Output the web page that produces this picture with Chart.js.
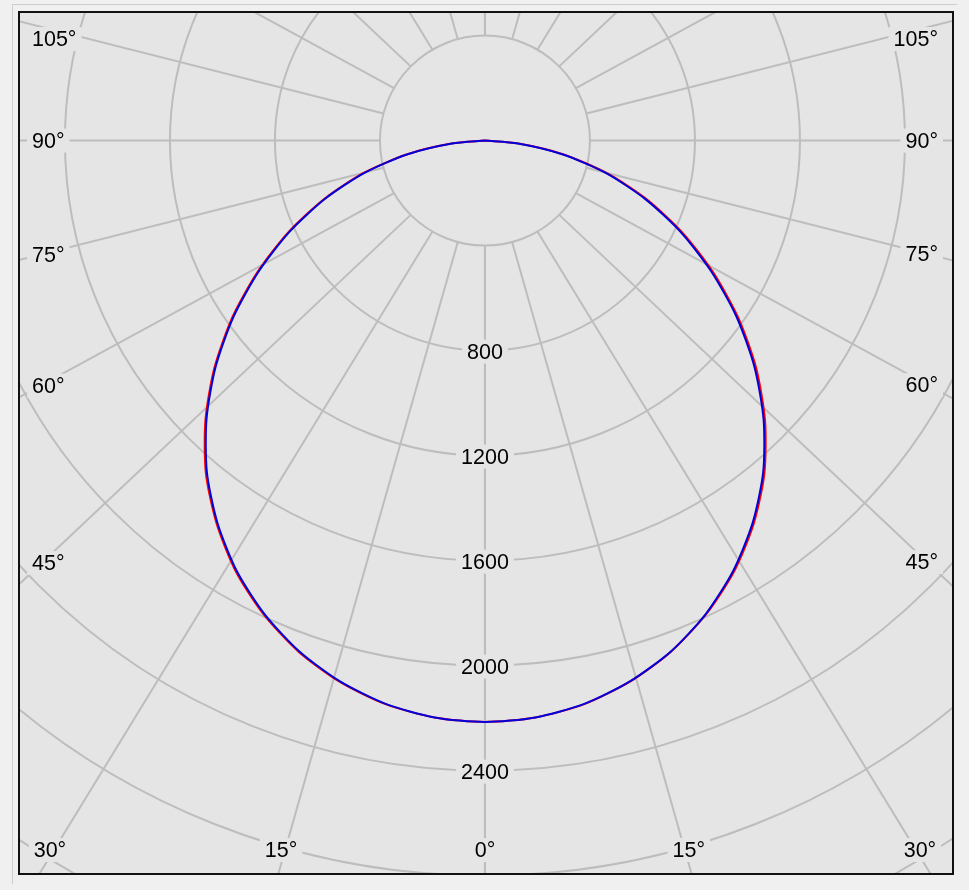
<!DOCTYPE html>
<html>
<head>
<meta charset="utf-8">
<script src="https://cdn.jsdelivr.net/npm/chart.js@4.4.1/dist/chart.umd.min.js"></script>
<style>
html, body { margin: 0; padding: 0; background: #f0f0f0; }
</style>
</head>
<body>
<canvas id="myChart" width="969" height="890"></canvas>
<script>
// gamma angles (0 = straight down), 5 deg steps
const angles = [0, 5, 10, 15, 20, 25, 30, 35, 40, 45, 50, 55, 60, 65, 70, 75, 80, 85, 90];

// luminous intensity in cd
const c0   = [2215, 2206, 2180, 2134, 2072, 1992, 1897, 1784, 1656, 1509, 1349, 1179, 1004, 831, 657, 483, 304, 128, 0];
const c180 = [2215, 2206, 2180, 2135, 2073, 1993, 1897, 1782, 1654, 1506, 1345, 1175, 1000, 827, 653, 480, 303, 128, 0];
const c90  = [2215, 2206, 2179, 2133, 2071, 1990, 1892, 1778, 1649, 1501, 1340, 1170, 995, 822, 649, 476, 299, 126, 0];
const c270 = [2215, 2206, 2179, 2133, 2070, 1989, 1892, 1777, 1648, 1500, 1339, 1169, 994, 821, 648, 475, 299, 126, 0];

const rings = [400, 800, 1200, 1600, 2000, 2400, 2800, 3200, 3600, 4000];
const ringLabels = [800, 1200, 1600, 2000, 2400];
const gridAngles = [0, 15, 30, 45, 60, 75, 90, 105, 120, 135, 150, 165, 180];
const sideLabels = [45, 60, 75, 90, 105];
const bottomLabels = [0, 15, 30];

const GRID = '#bdbdbd';
const BG = '#e5e5e5';
const FONT = '21.5px "Liberation Sans", Arial, sans-serif';
const stretch = 1.06; // grid rays of the original lean slightly outward

function planePoints(leftVals, rightVals) {
  const pts = [];
  for (let i = angles.length - 1; i >= 0; i--) {
    const t = angles[i] * Math.PI / 180;
    pts.push({x: -leftVals[i] * Math.sin(t), y: -leftVals[i] * Math.cos(t)});
  }
  for (let i = 1; i < angles.length; i++) {
    const t = angles[i] * Math.PI / 180;
    pts.push({x: rightVals[i] * Math.sin(t), y: -rightVals[i] * Math.cos(t)});
  }
  return pts;
}

function ray(cx, cy, r0, deg, side) {
  const t = deg * Math.PI / 180;
  const sx = cx + side * r0 * Math.sin(t);
  const sy = cy + r0 * Math.cos(t);
  let dx = side * stretch * Math.sin(t), dy = Math.cos(t);
  const n = Math.hypot(dx, dy);
  return {sx, sy, dx: dx / n, dy: dy / n};
}

function label(ctx, text, x, y, align) {
  ctx.font = FONT;
  const w = ctx.measureText(text).width;
  let left = x - w / 2;
  if (align === 'left') left = x;
  if (align === 'right') left = x - w;
  ctx.fillStyle = BG;
  ctx.fillRect(left - 5, y - 12, w + 10, 24);
  ctx.fillStyle = '#000';
  ctx.textAlign = 'left';
  ctx.textBaseline = 'middle';
  ctx.fillText(text, left, y + 1);
}

const polarGrid = {
  id: 'polarGrid',
  beforeDraw(chart) {
    const ctx = chart.ctx;
    ctx.save();
    ctx.fillStyle = '#f0f0f0';
    ctx.fillRect(0, 0, chart.width, chart.height);
    ctx.strokeStyle = '#cdcdcd';
    ctx.lineWidth = 1;
    ctx.beginPath();
    ctx.moveTo(12.5, 884);
    ctx.lineTo(12.5, 4.5);
    ctx.lineTo(957, 4.5);
    ctx.stroke();
    ctx.restore();
  },
  beforeDatasetsDraw(chart) {
    const {ctx, chartArea: a, scales: {x, y}} = chart;
    const cx = x.getPixelForValue(0), cy = y.getPixelForValue(0);
    const rad = v => x.getPixelForValue(v) - cx;
    ctx.save();
    ctx.fillStyle = BG;
    ctx.fillRect(a.left, a.top, a.right - a.left, a.bottom - a.top);
    ctx.beginPath();
    ctx.rect(a.left, a.top, a.right - a.left, a.bottom - a.top);
    ctx.clip();

    ctx.strokeStyle = GRID;
    ctx.lineWidth = 2;
    rings.forEach(v => {
      ctx.beginPath();
      ctx.arc(cx, cy, rad(v), 0, Math.PI * 2);
      ctx.stroke();
    });
    const r0 = rad(rings[0]);
    [-1, 1].forEach(side => {
      gridAngles.forEach(g => {
        const r = ray(cx, cy, r0, g, side);
        ctx.beginPath();
        ctx.moveTo(r.sx, r.sy);
        ctx.lineTo(r.sx + r.dx * 2000, r.sy + r.dy * 2000);
        ctx.stroke();
      });
    });

    // intensity labels along the 0 deg ray
    ringLabels.forEach(v => label(ctx, String(v), cx, cy + rad(v) + 1, 'center'));

    // angle labels where the rays leave the frame
    [-1, 1].forEach(side => {
      const xa = side < 0 ? a.left + 28 : a.right - 31;
      sideLabels.forEach(g => {
        const r = ray(cx, cy, r0, g, side);
        let yy = r.sy + (xa - r.sx) / r.dx * r.dy + 7 * Math.cos(g * Math.PI / 180);
        yy = Math.max(yy, a.top + 27);
        if (side < 0) label(ctx, g + '°', a.left + 13, yy, 'left');
        else label(ctx, g + '°', a.right - 15, yy, 'right');
      });
      const yb = a.bottom - 24;
      bottomLabels.forEach(g => {
        if (g === 0 && side > 0) return;
        const r = ray(cx, cy, r0, g, side);
        const xx = r.sx + (yb - r.sy) / r.dy * r.dx;
        label(ctx, g + '°', g === 0 ? cx : xx + side * 4, yb, 'center');
      });
    });
    ctx.restore();
  },
  afterDraw(chart) {
    const {ctx, chartArea: a} = chart;
    ctx.save();
    ctx.strokeStyle = '#111';
    ctx.lineWidth = 2;
    ctx.strokeRect(a.left, a.top, a.right - a.left, a.bottom - a.top);
    ctx.restore();
  }
};

const data = {
  datasets: [{
    label: 'C90 - C270',
    data: planePoints(c270, c90),
    borderColor: 'rgb(0, 0, 220)',
    backgroundColor: 'rgb(0, 0, 220)',
    order: 1,
  }, {
    label: 'C0 - C180',
    data: planePoints(c180, c0),
    borderColor: 'rgb(255, 0, 0)',
    backgroundColor: 'rgb(255, 0, 0)',
    order: 2,
  }]
};

const config = {
  type: 'scatter',
  data: data,
  options: {
    responsive: false,
    animation: false,
    devicePixelRatio: 1,
    showLine: true,
    layout: { padding: { left: 19, top: 12, right: 16, bottom: 16 } },
    elements: {
      point: { radius: 0, hoverRadius: 0 },
      line: { tension: 0.25, borderWidth: 2 }
    },
    scales: {
      x: { type: 'linear', display: false, min: -1775, max: 1783 },
      y: { type: 'linear', display: false, min: -2794, max: 490 }
    },
    plugins: {
      legend: { display: false },
      tooltip: { enabled: false }
    }
  },
  plugins: [polarGrid]
};

const myChart = new Chart(document.getElementById('myChart'), config);
</script>
</body>
</html>
